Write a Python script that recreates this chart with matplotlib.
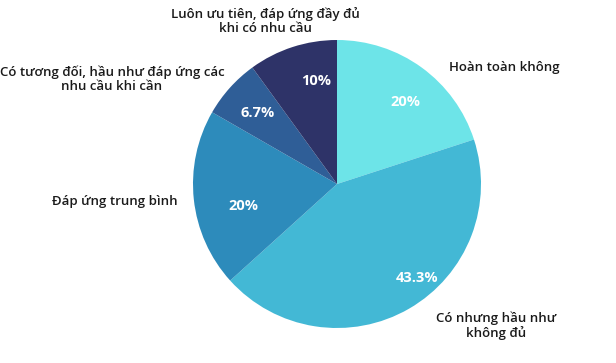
import matplotlib
matplotlib.use("Agg")
import matplotlib.pyplot as plt
import numpy as np

categories = [
    "Hoàn toàn không",
    "Có nhưng hầu như\nkhông đủ",
    "Đáp ứng trung bình",
    "Có tương đối, hầu như đáp ứng các\nnhu cầu khi cần",
    "Luôn ưu tiên, đáp ứng đầy đủ\nkhi có nhu cầu",
]
values = [20, 43.3, 20, 6.7, 10]
colors = ["#6de4e8", "#43b8d5", "#2d8bbb", "#2f5e97", "#2e3368"]

plt.rcParams["font.family"] = ["Open Sans", "DejaVu Sans"]

W, H = 616, 363
fig = plt.figure(figsize=(W / 100, H / 100), dpi=100)
ax = fig.add_axes([0, 0, 1, 1])

cx, cy, r = 337, H - 184, 144
wedges, _, autotexts = ax.pie(
    values, colors=colors, startangle=90, counterclock=False,
    center=(cx, cy), radius=r, autopct="%.1f%%", pctdistance=0.72,
    wedgeprops=dict(linewidth=0), frame=True,
)
ax.set_xlim(0, W)
ax.set_ylim(0, H)
ax.set_aspect("equal")
ax.axis("off")

# inner percentage labels: (angle in degrees, distance as fraction of radius)
pct_pos = [(50, 0.74), (-49.6, 0.86), (193, 0.67), (138, 0.74), (101.5, 0.73)]
for t, v, (ang, d) in zip(autotexts, values, pct_pos):
    t.set_text(f"{v:g}%")
    a = np.deg2rad(ang)
    t.set_position((cx + d * r * np.cos(a), cy + d * r * np.sin(a)))
    t.set_color("white")
    t.set_fontsize(10.5)
    t.set_fontweight("bold")
    t.set_ha("center")
    t.set_va("center")

# outer category labels (pixel positions, y measured from top)
label_pos = [(504, 68), (496, 326), (115, 202), (112, 79), (265, 21)]
for text, (x, y) in zip(categories, label_pos):
    ax.text(x, H - y, text, ha="center", va="center", fontsize=9.5,
            fontweight="semibold", color="#1a1a1a", linespacing=1.08)

fig.savefig("out.png", dpi=100)
